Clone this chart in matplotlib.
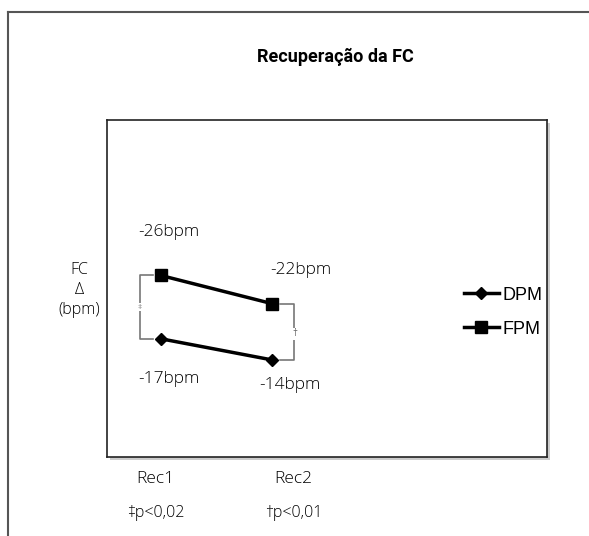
import matplotlib.pyplot as plt
from matplotlib.lines import Line2D

# data
categories = ['Rec1', 'Rec2']
x_pos = [1, 2]
dpm = [-17, -14]
fpm = [-26, -22]
dpm_labels = ['-17bpm', '-14bpm']
fpm_labels = ['-26bpm', '-22bpm']
footnotes = ['\u2021p<0,02', '\u2020p<0,01']

W, H = 589, 536
fig = plt.figure(figsize=(W / 100, H / 100), dpi=100)
plt.rcParams['font.family'] = ['Open Sans', 'DejaVu Sans']


def px(x, y):
    return x / W, 1 - y / H


# outer frame
fig.add_artist(Line2D([8 / W, 8 / W], [0, 1 - 12 / H], color='#555555', lw=1.5))
fig.add_artist(Line2D([8 / W, 1], [1 - 12 / H, 1 - 12 / H], color='#555555', lw=1.5))

# inner box shadow
fig.add_artist(plt.Rectangle(px(110, 460), 440 / W, 337 / H, facecolor='#cccccc',
                             edgecolor='none', zorder=0))
ax = fig.add_axes([107 / W, 1 - 457 / H, 440 / W, 337 / H])
ax.set_facecolor('white')
for s in ax.spines.values():
    s.set_color('#222222')
    s.set_linewidth(1.2)
ax.set_xticks([])
ax.set_yticks([])
ax.set_xlim(0.514, 4.477)
ax.set_ylim(-0.2, -48.1)

ax.plot(x_pos, dpm, color='black', lw=2.5, marker='D', ms=6.5, label='DPM')
ax.plot(x_pos, fpm, color='black', lw=2.5, marker='s', ms=9, label='FPM')

fpm_off = [(6, 31), (21, 24)]
dpm_off = [(6, -29), (13, -18)]
for x, y, t, o in zip(x_pos, fpm, fpm_labels, fpm_off):
    ax.annotate(t, (x, y), xytext=o, textcoords='offset points',
                ha='center', va='center', fontsize=12.5, fontweight='light')
for x, y, t, o in zip(x_pos, dpm, dpm_labels, dpm_off):
    ax.annotate(t, (x, y), xytext=o, textcoords='offset points',
                ha='center', va='center', fontsize=12.5, fontweight='light')

# brackets
bc = '#777777'
ax.plot([0.93, 0.81, 0.81, 0.93], [fpm[0], fpm[0], dpm[0], dpm[0]], color=bc, lw=1.2)
ax.plot([2.07, 2.195, 2.195, 2.07], [fpm[1], fpm[1], dpm[1], dpm[1]], color=bc, lw=1.2)
ax.text(0.81, (fpm[0] + dpm[0]) / 2, '\u2021', ha='center', va='center', fontsize=6,
        color=bc, bbox=dict(facecolor='white', edgecolor='none', pad=0.5))
ax.text(2.205, -17.7, '\u2020', ha='center', va='center', fontsize=7,
        color='#555555', bbox=dict(facecolor='white', edgecolor='none', pad=0.3))

leg = ax.legend(loc='center left', bbox_to_anchor=(0.79, 0.43), frameon=False,
                prop={'family': 'Liberation Sans', 'size': 13}, handlelength=1.95,
                handletextpad=0.2, labelspacing=0.95, borderpad=0)

# axis label
fig.text(*px(79, 290), 'FC\n\u0394\n(bpm)', ha='center', va='center', fontsize=11.5,
         linespacing=1.3, fontweight='light')

# categories and footnotes
for cx, c, f in zip([155, 293], categories, footnotes):
    fig.text(*px(cx, 479), c, ha='center', va='center', fontsize=12.5, fontweight='light')
    fig.text(*px(cx + 1, 513), f, ha='center', va='center', fontsize=11.5,
             fontweight='light')

fig.text(*px(335, 57), 'Recupera\u00e7\u00e3o da FC', ha='center', va='center',
         fontsize=13, fontweight='bold', family='Roboto')

fig.savefig('out.png', dpi=100)
